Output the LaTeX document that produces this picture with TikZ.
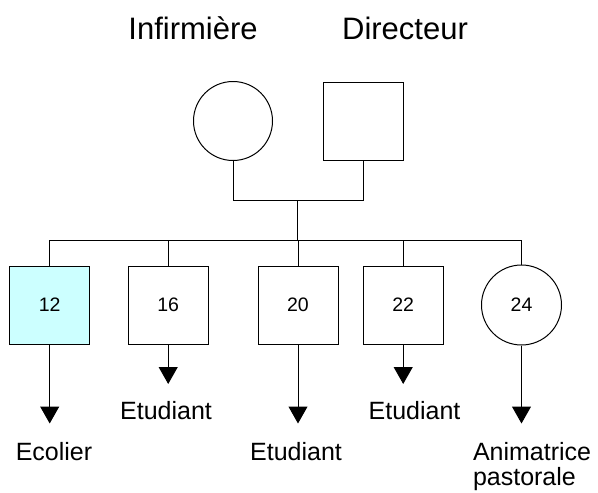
\documentclass[tikz,border=0pt]{standalone}
\usepackage{fontspec}
\setmainfont{Liberation Sans}
\usetikzlibrary{arrows.meta}
\definecolor{lightcyan}{HTML}{CCFFFF}
\begin{document}
\begin{tikzpicture}[x=1pt,y=1pt,
  line width=1pt,
  person/.style={draw=black, inner sep=0pt, font=\fontsize{19.5}{22}\selectfont},
  male/.style={person, rectangle, minimum width=80pt, minimum height=78pt},
  female/.style={person, circle, minimum size=79pt},
  title/.style={font=\fontsize{31}{36}\selectfont, anchor=base, inner sep=0pt},
  lab/.style={font=\fontsize{25}{25}\selectfont, anchor=base, inner sep=0pt},
  arr/.style={-{Triangle[width=19pt,length=17pt]}}
]
\useasboundingbox (0,0) rectangle (598,-493);

% parents
\node[female] (mom) at (233,-121) {};
\node[male] (dad) at (363.7,-121) {};
\node[title] (tmom) at (193,-39) {Infirmière};
\node[title] (tdad) at (405,-39) {Directeur};

\coordinate (m) at (297.5,-200);
\coordinate (s) at (297.5,-240);
\draw (mom.south) -- (mom.south |- m) -- (dad.south |- m) -- (dad.south);
\draw (m) -- (s);

% children
\node[male, fill=lightcyan] (c12) at (49.7,-305) {12};
\node[male] (c16) at (168.2,-305) {16};
\node[male] (c20) at (298,-305) {20};
\node[male] (c22) at (403.2,-305) {22};
\node[female, minimum size=80pt] (c24) at (521.5,-305) {24};

\draw (c12.north) -- (c12.north |- s) -- (c24.north |- s) -- (c24.north);
\draw (c16.north) -- (c16.north |- s);
\draw (c20.north) -- (c20.north |- s);
\draw (c22.north) -- (c22.north |- s);

% arrows
\coordinate (t12) at (49.7,-423.5);
\coordinate (t16) at (168.2,-384);
\coordinate (t20) at (298,-423.5);
\coordinate (t22) at (403.2,-384);
\coordinate (t24) at (521.5,-423.5);
\draw[arr] (c12.south) -- (t12);
\draw[arr] (c16.south) -- (t16);
\draw[arr] (c20.south) -- (t20);
\draw[arr] (c22.south) -- (t22);
\draw[arr] (c24.south) -- (t24);

% labels
\node[lab] (l12) at (54,-460) {Ecolier};
\node[lab] (l16) at (166,-419.3) {Etudiant};
\node[lab] (l20) at (296,-460) {Etudiant};
\node[lab] (l22) at (414.5,-419.3) {Etudiant};
\node[lab, anchor=base west, align=left] (l24) at (472.5,-485) {Animatrice\\pastorale};
\end{tikzpicture}
\end{document}
